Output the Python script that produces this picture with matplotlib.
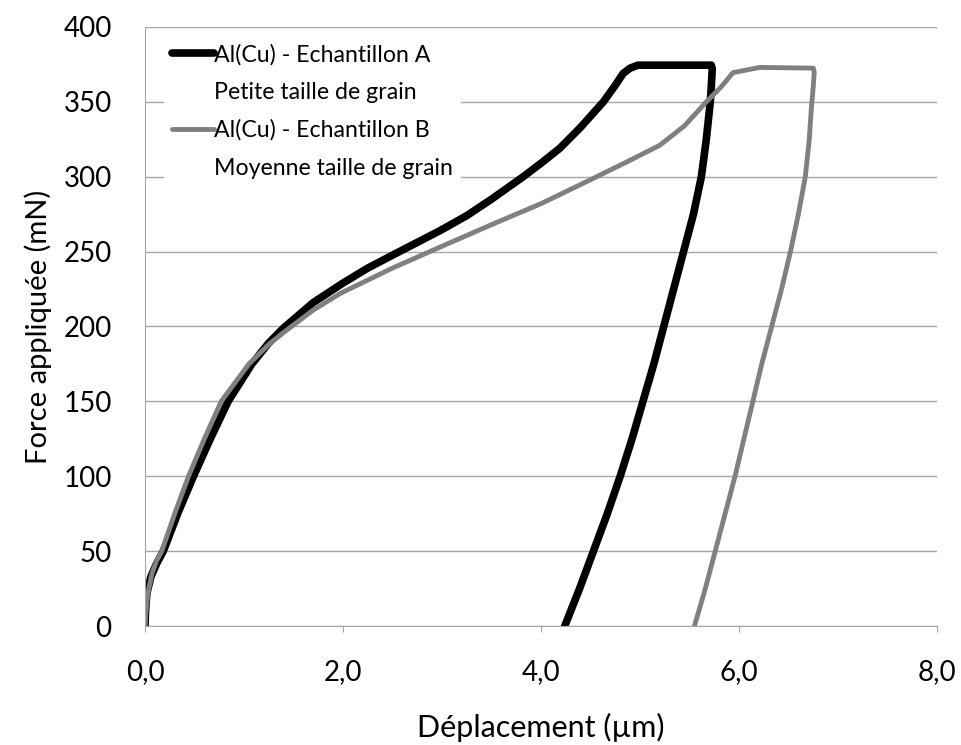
import numpy as np
import matplotlib.pyplot as plt
from matplotlib.lines import Line2D

# Echantillon A (noir) : charge puis decharge
xa = [0, 0.005, 0.02, 0.06, 0.12, 0.185, 0.33, 0.49, 0.66, 0.84, 1.08, 1.25, 1.40, 1.70, 2.0, 2.25, 2.54, 2.98,
      3.25, 3.5, 3.82, 4.0, 4.19, 4.4, 4.63, 4.75, 4.83, 4.9, 4.98, 5.72,
      5.73, 5.72, 5.71, 5.67, 5.62, 5.54, 5.44, 5.34, 5.24, 5.14, 5.03, 4.92, 4.80, 4.67, 4.53, 4.39, 4.24]
ya = [0, 10, 22, 33, 42, 50, 75, 100, 125, 150, 175, 189, 199, 216, 229, 239, 249, 264,
      274, 285, 300, 309, 319, 333, 350, 361, 369, 372.5, 374.5, 374.5,
      372, 360, 350, 325, 300, 275, 250, 225, 200, 175, 150, 125, 100, 75, 50, 25, 0]

# Echantillon B (gris)
xb = [0, 0.01, 0.03, 0.07, 0.12, 0.17, 0.30, 0.44, 0.60, 0.77, 1.05, 1.25, 1.40, 1.70, 1.97, 2.5, 2.98,
      3.5, 4.0, 4.5, 4.87, 5.2, 5.45, 5.67, 5.82, 5.94, 6.21, 6.75,
      6.76, 6.75, 6.73, 6.71, 6.67, 6.60, 6.52, 6.43, 6.33, 6.23, 6.14, 6.05, 5.96, 5.86, 5.76, 5.66, 5.55]
yb = [0, 10, 22, 35, 44, 50, 75, 100, 125, 150, 175, 188, 196, 211, 222, 239, 253,
      268, 282, 298, 310, 321, 334, 350, 360, 369.5, 373, 372.5,
      370, 360, 345, 325, 300, 275, 250, 225, 200, 175, 150, 125, 100, 75, 50, 25, 0]

labels = ["Al(Cu) - Echantillon A", "Petite taille de grain",
          "Al(Cu) - Echantillon B", "Moyenne taille de grain"]
xtick_labels = ["0,0", "2,0", "4,0", "6,0", "8,0"]

plt.rcParams['font.family'] = ['Lato', 'DejaVu Sans']

fig = plt.figure(figsize=(9.62, 7.45), dpi=100)
ax = fig.add_axes([0.1507, 0.1597, 0.8233, 0.8041])

la, = ax.plot(xa, ya, color='black', lw=5.5, solid_capstyle='round', solid_joinstyle='round')
lb, = ax.plot(xb, yb, color='#808080', lw=3.5, solid_capstyle='round', solid_joinstyle='round')

ax.set_xlim(0, 8)
ax.set_ylim(0, 400)
ax.set_xticks(np.arange(0, 8.1, 2))
ax.set_xticklabels(xtick_labels)
ax.set_yticks(np.arange(0, 401, 50))
ax.yaxis.grid(True, color='#a6a6a6', lw=1)
ax.set_axisbelow(True)

for s in ['top', 'right']:
    ax.spines[s].set_visible(False)
for s in ['left', 'bottom']:
    ax.spines[s].set_color('#a6a6a6')
ax.tick_params(axis='x', colors='#a6a6a6', length=4.5, labelcolor='black', labelsize=20, pad=19)
ax.tick_params(axis='y', length=0, labelcolor='black', labelsize=20, pad=24)

ax.set_xlabel("Déplacement (µm)", fontsize=22, labelpad=20)
ax.set_ylabel("Force appliquée (mN)", fontsize=21, labelpad=8)

blank = Line2D([], [], color='none')
leg = ax.legend(handles=[la, blank, lb, blank], labels=labels,
                loc='upper left', bbox_to_anchor=(0.024, 0.985), borderaxespad=0,
                frameon=True, facecolor='white', edgecolor='none', framealpha=1,
                fontsize=16.7, borderpad=0.35, handlelength=1.8, handletextpad=0.0,
                labelspacing=0.71)

fig.savefig("out.png", dpi=100)
